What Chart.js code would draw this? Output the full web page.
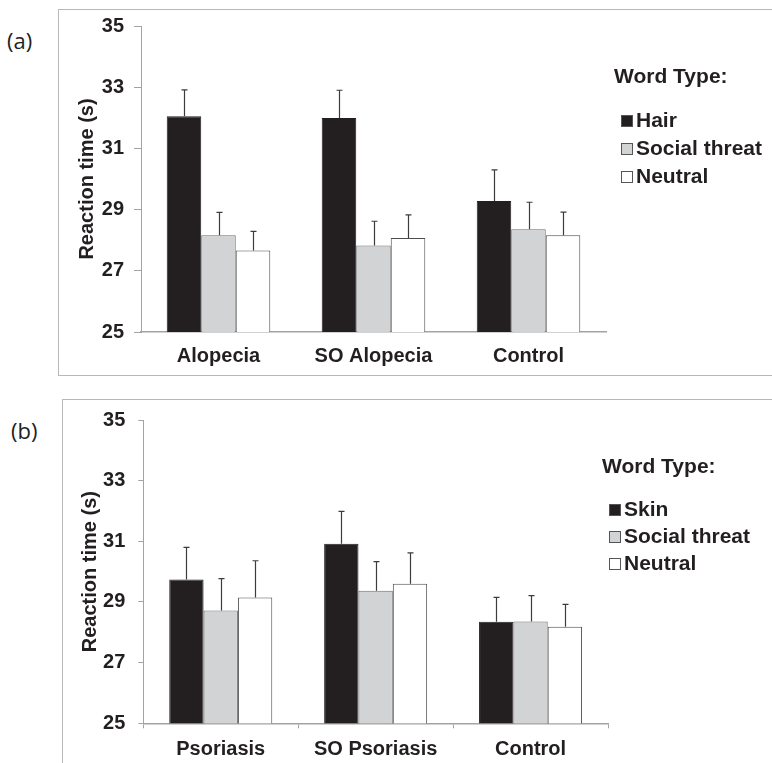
<!DOCTYPE html>
<html><head><meta charset="utf-8">
<script src="https://cdn.jsdelivr.net/npm/chart.js@4/dist/chart.umd.min.js"></script>
<style>
html,body{margin:0;padding:0;background:#fff;width:772px;height:763px;overflow:hidden;position:relative;font-family:"Liberation Sans",Arial,sans-serif;}
.frame{position:absolute;border:1px solid #b8b8b8;box-sizing:border-box;}
#frameA{left:58px;top:9px;width:760px;height:367px;}
#frameB{left:62px;top:399px;width:760px;height:420px;}
.plab{position:absolute;font-family:"Open Sans",sans-serif;font-size:22px;color:#231f20;line-height:1;}
canvas{position:absolute;left:0;}
</style></head><body>
<div class="frame" id="frameA"></div>
<div class="frame" id="frameB"></div>
<div class="plab" style="left:7px;top:29px">(a)</div>
<div class="plab" style="left:11px;top:419px">(b)</div>
<canvas id="cA" width="772" height="380" style="top:0"></canvas>
<canvas id="cB" width="772" height="368" style="top:395px"></canvas>
<script>
// ---- Data (panel a) ----
const categoriesA = ['Alopecia', 'SO Alopecia', 'Control'];
const hairA = [32.05, 31.99, 29.28];
const socialA = [28.16, 27.83, 28.36];
const neutralA = [27.66, 28.07, 28.16];
const hairErrA = [0.86, 0.91, 1.02];
const socialErrA = [0.75, 0.79, 0.88];
const neutralErrA = [0.63, 0.76, 0.76];
const seriesNamesA = ['Hair', 'Social threat', 'Neutral'];

// ---- Data (panel b) ----
const categoriesB = ['Psoriasis', 'SO Psoriasis', 'Control'];
const skinB = [29.74, 30.92, 28.35];
const socialB = [28.72, 29.37, 28.36];
const neutralB = [29.15, 29.60, 28.18];
const skinErrB = [1.06, 1.07, 0.80];
const socialErrB = [1.05, 0.96, 0.85];
const neutralErrB = [1.21, 1.02, 0.74];
const seriesNamesB = ['Skin', 'Social threat', 'Neutral'];

// ---- Axis ----
const yMin = 25, yMax = 35, yStep = 2;
const yTitle = 'Reaction time (s)';
const legendTitle = 'Word Type:';

const fills = ['#231f20', '#d1d3d4', '#ffffff'];
const borders = ['#231f20', '#6d6e70', '#4d4d4f'];
const FONT = '"Liberation Sans", Arial, sans-serif';
const axisGray = '#a3a3a3';

const errorBarPlugin = {
  id: 'errorBars',
  afterDatasetsDraw(chart) {
    const ctx = chart.ctx, y = chart.scales.y;
    ctx.save();
    ctx.strokeStyle = '#3c3c3c';
    ctx.lineWidth = 1.2;
    chart.data.datasets.forEach((ds, i) => {
      const meta = chart.getDatasetMeta(i);
      meta.data.forEach((el, j) => {
        const top = y.getPixelForValue(ds.data[j] + ds.errors[j]);
        const x = Math.round(el.x) + 0.5;
        ctx.beginPath();
        ctx.moveTo(x, el.y);
        ctx.lineTo(x, top);
        ctx.moveTo(x - 3, top);
        ctx.lineTo(x + 3, top);
        ctx.stroke();
      });
    });
    ctx.restore();
  }
};

const legendPlugin = {
  id: 'sideLegend',
  afterDraw(chart, args, opts) {
    const ctx = chart.ctx;
    ctx.save();
    ctx.fillStyle = '#231f20';
    ctx.textBaseline = 'middle';
    ctx.textAlign = 'left';
    ctx.font = 'bold 21px ' + FONT;
    ctx.fillText(opts.title, opts.titleX, opts.titleY);
    chart.data.datasets.forEach((ds, i) => {
      const cy = opts.itemY0 + i * opts.itemGap;
      ctx.fillStyle = ds.backgroundColor;
      ctx.fillRect(opts.boxX + 0.5, cy - 5.5, 11, 11);
      ctx.strokeStyle = '#555';
      ctx.lineWidth = 1;
      ctx.strokeRect(opts.boxX + 0.5, cy - 5.5, 11, 11);
      ctx.fillStyle = '#231f20';
      ctx.fillText(ds.label, opts.textX, cy);
    });
    ctx.restore();
  }
};

function makeChart(canvasId, cats, values, errs, names, g) {
  const datasets = values.map((v, i) => ({
    label: names[i],
    data: v,
    errors: errs[i],
    backgroundColor: fills[i],
    borderColor: borders[i],
    borderWidth: 1,
    categoryPercentage: g.catPct,
    barPercentage: 1.0
  }));
  return new Chart(document.getElementById(canvasId), {
    type: 'bar',
    data: { labels: cats, datasets },
    options: {
      responsive: false,
      animation: false,
      devicePixelRatio: 1,
      layout: { padding: { left: 0, top: g.top, right: g.right, bottom: 0 } },
      plugins: {
        legend: { display: false },
        tooltip: { enabled: false },
        sideLegend: g.legend
      },
      scales: {
        x: {
          afterFit(s) { s.height = g.xHeight; },
          grid: { display: true, drawOnChartArea: false, drawTicks: g.xTicks, tickLength: 5, color: axisGray },
          border: { display: true, color: axisGray, width: 1.5 },
          ticks: { color: '#231f20', padding: g.xPad, font: { family: FONT, size: 20, weight: 'bold' }, maxRotation: 0 }
        },
        y: {
          min: yMin, max: yMax,
          afterFit(s) { s.width = g.yWidth; },
          grid: { drawOnChartArea: false, drawTicks: true, tickLength: g.yTick, color: axisGray },
          border: { display: true, color: axisGray, width: 1 },
          ticks: { stepSize: yStep, color: '#231f20', padding: g.yPad, font: { family: FONT, size: 20, weight: 'bold' } },
          title: { display: true, text: yTitle, color: '#231f20', padding: { top: g.titlePad, bottom: 0 }, font: { family: FONT, size: 20, weight: 'bold' } }
        }
      }
    },
    plugins: [errorBarPlugin, legendPlugin]
  });
}

makeChart('cA', categoriesA, [hairA, socialA, neutralA], [hairErrA, socialErrA, neutralErrA], seriesNamesA, {
  catPct: 0.668, top: 26, right: 166, xHeight: 48, yWidth: 141, xTicks: false, xPad: 12,
  yTick: 7, yPad: 10, titlePad: 75,
  legend: { title: legendTitle, titleX: 614, titleY: 77, boxX: 621, textX: 636, itemY0: 121, itemGap: 28 }
});

makeChart('cB', categoriesB, [skinB, socialB, neutralB], [skinErrB, socialErrB, neutralErrB], seriesNamesB, {
  catPct: 0.665, top: 22, right: 164, xHeight: 39.7, yWidth: 143.3, xTicks: true, xPad: 9,
  yTick: 5, yPad: 13, titlePad: 78,
  legend: { title: legendTitle, titleX: 602, titleY: 72, boxX: 609, textX: 624, itemY0: 115, itemGap: 27 }
});
</script>
</body></html>
